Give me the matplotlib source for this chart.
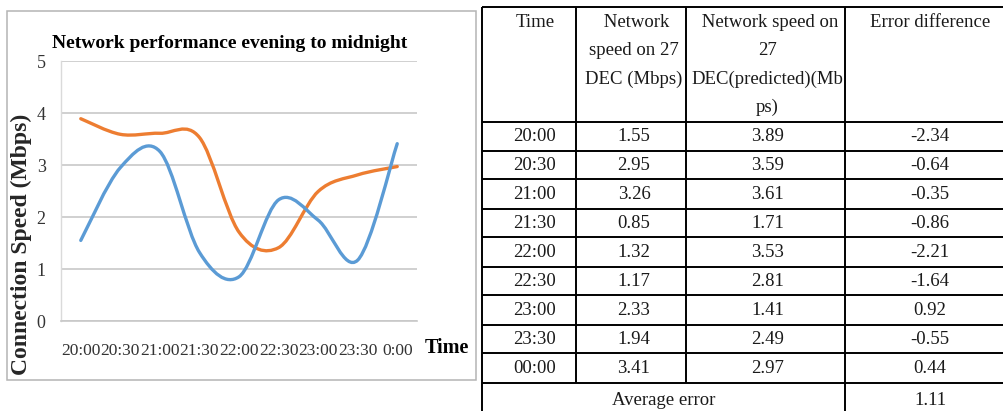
import matplotlib.pyplot as plt
from matplotlib.path import Path
from matplotlib.patches import PathPatch, Rectangle

plt.rcParams['font.family'] = ['Liberation Serif', 'DejaVu Serif']

# chart series (half-hour samples, evening to midnight)
times = ['20:00', '20:30', '21:00', '21:30', '22:00', '22:30', '23:00', '23:30', '0:00']
measured = [1.55, 2.95, 3.26, 1.32, 0.85, 2.33, 1.94, 1.17, 3.41]
predicted = [3.89, 3.59, 3.61, 3.53, 1.71, 1.41, 2.49, 2.81, 2.97]

# table on the right
table_times = ['20:00', '20:30', '21:00', '21:30', '22:00', '22:30', '23:00', '23:30', '00:00']
table_actual = [1.55, 2.95, 3.26, 0.85, 1.32, 1.17, 2.33, 1.94, 3.41]
table_pred = [3.89, 3.59, 3.61, 1.71, 3.53, 2.81, 1.41, 2.49, 2.97]
table_err = [-2.34, -0.64, -0.35, -0.86, -2.21, -1.64, 0.92, -0.55, 0.44]
avg_error = 1.11

BLUE = '#5B9BD5'
ORANGE = '#ED7D31'
GRID = '#C8C8C8'


def smooth_path(xs, ys):
    # excel-style smoothed line: cubic bezier through every point
    pts = list(zip(xs, ys))
    n = len(pts)
    verts = [pts[0]]
    codes = [Path.MOVETO]
    for i in range(n - 1):
        p0 = pts[max(i - 1, 0)]
        p1 = pts[i]
        p2 = pts[i + 1]
        p3 = pts[min(i + 2, n - 1)]
        c1 = (p1[0] + (p2[0] - p0[0]) / 6, p1[1] + (p2[1] - p0[1]) / 6)
        c2 = (p2[0] - (p3[0] - p1[0]) / 6, p2[1] - (p3[1] - p1[1]) / 6)
        verts += [c1, c2, p2]
        codes += [Path.CURVE4] * 3
    return Path(verts, codes)


W, H = 1004, 411
fig = plt.figure(figsize=(W / 100, H / 100), dpi=100)

# overlay in pixel units for the chart frame and the table
ov = fig.add_axes([0, 0, 1, 1], zorder=0)
ov.set_xlim(0, W)
ov.set_ylim(H, 0)
ov.axis('off')
ov.add_patch(Rectangle((7, 11), 469, 369, fill=False, edgecolor='#B4B4B4', lw=1.1))

# ---- chart ----
ax = fig.add_axes([61 / W, 90 / H, 356 / W, 260 / H], zorder=1)
ax.set_facecolor('none')
xs = list(range(len(times)))
ax.add_patch(PathPatch(smooth_path(xs, predicted), fill=False, edgecolor=ORANGE,
                       lw=2.4, capstyle='round', joinstyle='round', zorder=3))
ax.add_patch(PathPatch(smooth_path(xs, measured), fill=False, edgecolor=BLUE,
                       lw=2.4, capstyle='round', joinstyle='round', zorder=4))
ax.set_xlim(-0.5, len(times) - 0.5)
ax.set_ylim(0, 5)
ax.set_xticks(xs)
ax.set_xticklabels(times)
ax.set_yticks(range(6))
ax.yaxis.grid(True, color=GRID, lw=1.2)
ax.set_axisbelow(True)
for s in ['top', 'right']:
    ax.spines[s].set_visible(False)
ax.spines['bottom'].set_color(GRID)
ax.spines['bottom'].set_linewidth(1.2)
ax.spines['left'].set_color('#DADADA')
ax.spines['left'].set_linewidth(1.0)
ax.tick_params(axis='x', length=0, pad=16, labelsize=12.5, labelcolor='#333333')
ax.tick_params(axis='y', length=0, pad=11, labelsize=13, labelcolor='#333333')

ax.text(0.475, 1.069, 'Network performance evening to midnight', transform=ax.transAxes,
        ha='center', va='center', fontsize=14, fontweight='bold')
ax.text(-0.11, 0.296, 'Connection Speed (Mbps)', transform=ax.transAxes, rotation=90,
        ha='center', va='center', fontsize=17, fontweight='bold', color='#262626')
ax.text(1.084, -0.104, 'Time', transform=ax.transAxes, ha='center', va='center',
        fontsize=14.5, fontweight='bold')

# ---- table ----
col_x = [482, 576, 686, 845, 1025]
row_y = [7, 122, 151, 179, 209, 237, 267, 295, 325, 353, 383, 417]
lw = 1.4
for y in row_y:
    ov.plot([col_x[0], col_x[-1]], [y, y], color='black', lw=lw, solid_capstyle='butt')
for x in [col_x[0], col_x[3], col_x[4]]:
    ov.plot([x, x], [row_y[0], row_y[-1]], color='black', lw=lw, solid_capstyle='butt')
for x in [col_x[1], col_x[2]]:
    ov.plot([x, x], [row_y[0], row_y[-2]], color='black', lw=lw, solid_capstyle='butt')

fs = 13.5
tc = '#1a1a1a'
offsets = [6, 3, 2, -5]
headers = ['Time', ' Network\nspeed on 27\nDEC (Mbps)', ' Network speed on\n27\nDEC(predicted)(Mb\nps)',
           'Error difference']
for i, h in enumerate(headers):
    cx = (col_x[i] + col_x[i + 1]) / 2 + offsets[i]
    ov.text(cx, 14, h, ha='center', va='top', fontsize=fs, color=tc, linespacing=1.85)

for r in range(len(table_times)):
    cy = (row_y[r + 1] + row_y[r + 2]) / 2
    cells = [table_times[r], f'{table_actual[r]:.2f}', f'{table_pred[r]:.2f}', f'{table_err[r]:.2f}']
    for i, c in enumerate(cells):
        cx = (col_x[i] + col_x[i + 1]) / 2 + offsets[i]
        ov.text(cx, cy, c, ha='center', va='center', fontsize=fs, color=tc)

cy = (row_y[-2] + row_y[-1]) / 2
ov.text((col_x[0] + col_x[3]) / 2, cy, 'Average error', ha='center', va='center', fontsize=fs, color=tc)
ov.text((col_x[3] + col_x[4]) / 2 + offsets[3], cy, f'{avg_error:.2f}', ha='center', va='center',
        fontsize=fs, color=tc)

fig.savefig('out.png', dpi=100)
